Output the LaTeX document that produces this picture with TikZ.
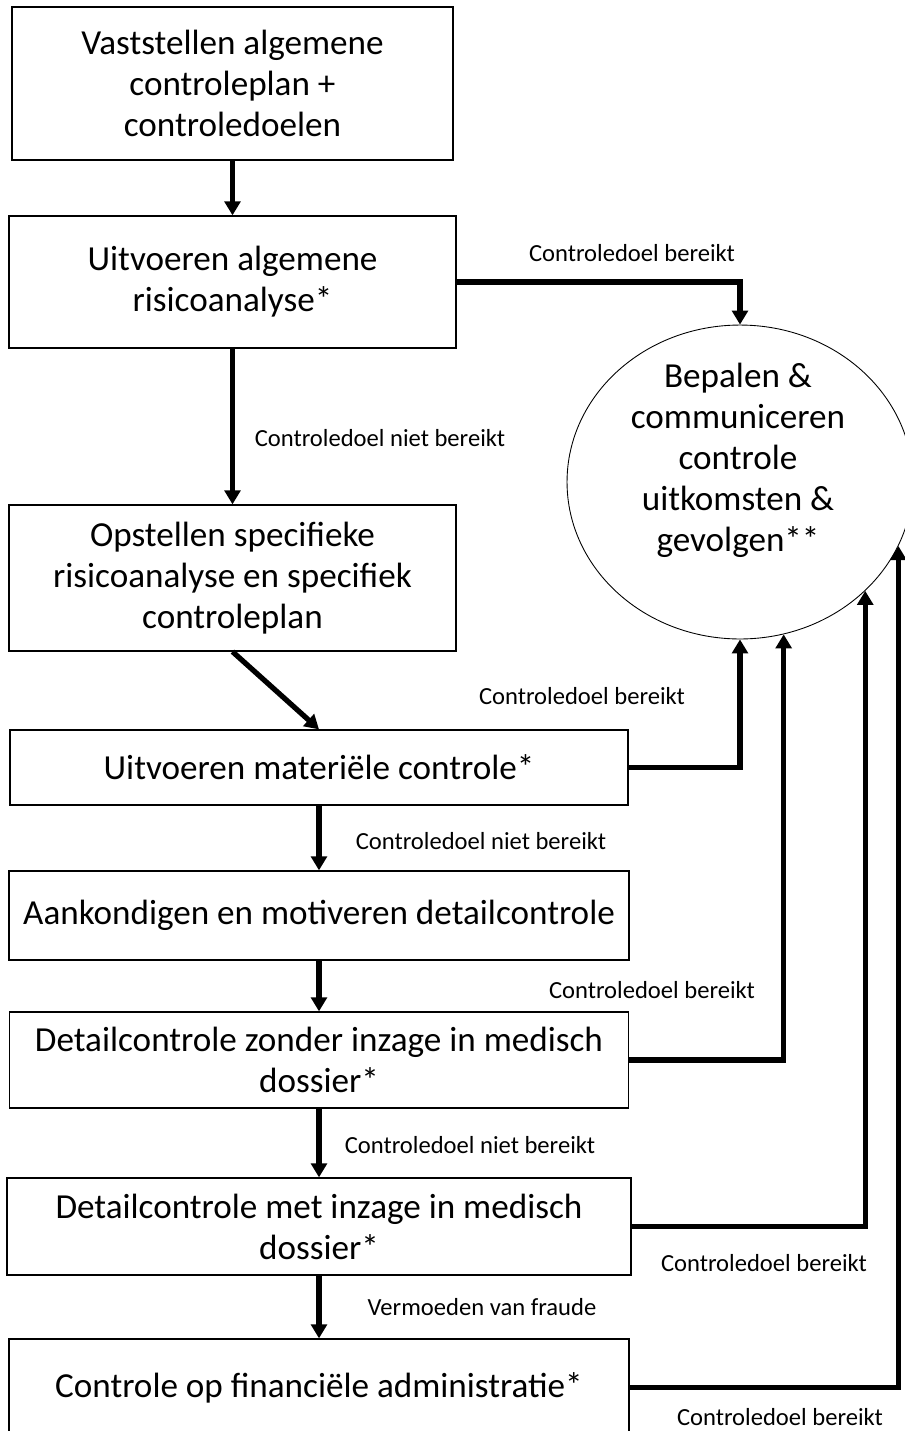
\documentclass[tikz,border=0pt]{standalone}
\usepackage{fontspec}
\setmainfont{Carlito}
\usepackage{tikz}
\usetikzlibrary{arrows.meta}
\usetikzlibrary{shapes.geometric}
\tikzset{
    stepbox/.style={draw=black, line width=0.75pt, align=center, inner sep=0pt,
        font=\fontsize{20}{23.3}\selectfont},
    outcome/.style={ellipse, draw=black, line width=0.5pt, inner sep=0pt,
        minimum width=6.92cm, minimum height=6.28cm},
    flow/.style={line width=3pt, -{Triangle[length=8pt, width=9pt]}},
    flowlabel/.style={font=\fontsize{14}{16}\selectfont, inner sep=0pt}}

\begin{document}
\begin{tikzpicture}[x=0.02cm, y=-0.02cm]
        \useasboundingbox (0,0) rectangle (904,1431);

            \node[stepbox, minimum width=8.82cm, minimum height=3.06cm] (plan) at (232.5,83.5) {Vaststellen algemene\\controleplan +\\controledoelen};
            \node[stepbox, minimum width=8.94cm, minimum height=2.64cm] (risk) at (232.5,282) {Uitvoeren algemene\\risicoanalyse*};
            \node[stepbox, minimum width=8.94cm, minimum height=2.92cm] (specific) at (232.5,578) {Opstellen specifieke\\risicoanalyse en specifiek\\controleplan};
            \node[stepbox, minimum width=12.36cm, minimum height=1.50cm] (material) at (319,767.5) {Uitvoeren materiële controle*};
            \node[stepbox, minimum width=12.40cm, minimum height=1.78cm] (announce) at (319,915.5) {Aankondigen en motiveren detailcontrole};
            \node[stepbox, minimum width=12.38cm, minimum height=1.92cm] (without) at (319,1060) {Detailcontrole zonder inzage in medisch\\dossier*};
            \node[stepbox, minimum width=12.48cm, minimum height=1.94cm] (with) at (319,1226.5) {Detailcontrole met inzage in medisch\\dossier*};
            \node[stepbox, minimum width=12.40cm, minimum height=1.94cm] (finance) at (319,1387.5) {Controle op financiële administratie*};

            \node[outcome] (result) at (740,482) {};
            \node[font=\fontsize{20}{23.3}\selectfont, align=center, inner sep=0pt] (resulttext) at (738,460) {Bepalen \&\\communiceren\\controle\\uitkomsten \&\\gevolgen**};

            \node[flowlabel] (l1) at (632,253) {Controledoel bereikt};
            \node[flowlabel] (l2) at (380,438) {Controledoel niet bereikt};
            \node[flowlabel] (l3) at (582,696) {Controledoel bereikt};
            \node[flowlabel] (l4) at (481,841) {Controledoel niet bereikt};
            \node[flowlabel] (l5) at (652,990) {Controledoel bereikt};
            \node[flowlabel] (l6) at (470,1145) {Controledoel niet bereikt};
            \node[flowlabel] (l7) at (764,1263) {Controledoel bereikt};
            \node[flowlabel] (l8) at (482,1307) {Vermoeden van fraude};
            \node[flowlabel] (l9) at (780,1417) {Controledoel bereikt};

            \draw[flow] (plan) -- (risk);
            \draw[flow] (risk) -- (specific);
            \draw[flow] (specific.south) -- (material.north);
            \draw[flow] (material) -- (announce);
            \draw[flow] (announce) -- (without);
            \draw[flow] (without) -- (with);
            \draw[flow] (with) -- (finance);

            \draw[flow] (risk.east) -| (result.north);
            \draw[flow] (material.east) -| (result.south);
            \draw[flow] (without.east) -| (result.-74.2);
            \draw[flow] (with.east) -| (result.-41.9);
            \draw[flow] (finance.east) -| (result.-22.05);

        \end{tikzpicture}
\end{document}
